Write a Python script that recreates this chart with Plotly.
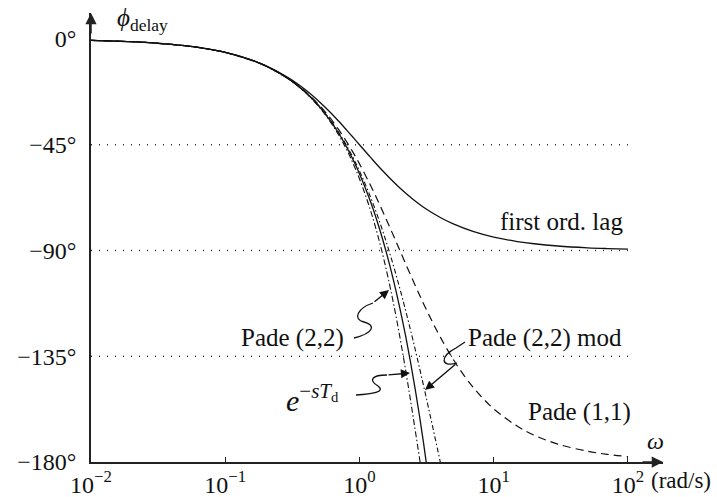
import plotly.graph_objects as go

# ---------------- data ----------------
w_exact = [0.01, 0.02, 0.03, 0.05, 0.07, 0.1, 0.15, 0.2, 0.3, 0.4, 0.5, 0.6, 0.7, 0.8, 0.9,
           1.0, 1.2, 1.4, 1.6, 1.8, 2.0, 2.2, 2.4, 2.6, 2.8, 3.0, 3.2]
phi_exact = [-0.57, -1.15, -1.72, -2.86, -4.01, -5.73, -8.59, -11.46, -17.19, -22.92, -28.65,
             -34.38, -40.11, -45.84, -51.57, -57.30, -68.75, -80.21, -91.67, -103.13, -114.59,
             -126.05, -137.51, -148.97, -160.43, -171.89, -183.35]

w_lag = [0.01, 0.02, 0.03, 0.05, 0.07, 0.1, 0.15, 0.2, 0.3, 0.4, 0.5, 0.6, 0.7, 0.8, 0.9, 1.0,
         1.2, 1.5, 2, 2.5, 3, 4, 5, 7, 10, 15, 20, 30, 50, 70, 100]
phi_lag = [-0.57, -1.15, -1.72, -2.86, -4.00, -5.71, -8.53, -11.31, -16.70, -21.80, -26.57,
           -30.96, -34.99, -38.66, -41.99, -45.00, -50.19, -56.31, -63.43, -68.20, -71.57,
           -75.96, -78.69, -81.87, -84.29, -86.19, -87.14, -88.09, -88.85, -89.18, -89.43]

w_pade11 = [0.01, 0.02, 0.03, 0.05, 0.07, 0.1, 0.2, 0.3, 0.4, 0.5, 0.6, 0.7, 0.8, 0.9, 1.0,
            1.2, 1.4, 1.6, 1.8, 2.0, 2.5, 3, 3.5, 4, 5, 6, 7, 8, 10, 15, 20, 30, 50, 70, 100]
phi_pade11 = [-0.57, -1.15, -1.72, -2.86, -4.01, -5.72, -11.42, -17.06, -22.62, -28.07, -33.40,
              -38.58, -43.60, -48.46, -53.13, -61.93, -69.98, -77.32, -83.97, -90.00, -102.68,
              -112.62, -120.51, -126.87, -136.40, -143.13, -148.11, -151.93, -157.38, -164.81,
              -168.58, -172.37, -175.42, -176.73, -177.71]

w_pade22 = [0.01, 0.02, 0.03, 0.05, 0.07, 0.1, 0.15, 0.2, 0.3, 0.4, 0.5, 0.6, 0.7, 0.8, 0.9,
            1.0, 1.2, 1.4, 1.6, 1.8, 2.0, 2.2, 2.4, 2.6, 2.8, 2.9, 3.0]
phi_pade22 = [-0.57, -1.15, -1.72, -2.87, -4.01, -5.73, -8.60, -11.48, -17.25, -23.07, -28.94,
              -34.88, -40.89, -47.00, -53.19, -59.49, -72.38, -85.66, -99.27, -113.06, -126.87,
              -140.49, -153.73, -166.40, -178.36, -184.05, -189.53]

w_mod = [0.01, 0.02, 0.03, 0.05, 0.07, 0.1, 0.15, 0.2, 0.3, 0.4, 0.5, 0.6, 0.7, 0.8, 0.9,
         1.0, 1.2, 1.4, 1.6, 1.8, 2.0, 2.2, 2.4, 2.6, 2.8, 3.0, 3.2, 3.4, 3.6, 3.8, 4.0, 4.2]
phi_mod = [-0.57, -1.15, -1.72, -2.87, -4.01, -5.73, -8.59, -11.45, -17.16, -22.84, -28.50,
           -34.12, -39.70, -45.24, -50.72, -56.14, -66.80, -77.16, -87.21, -96.90, -106.26,
           -115.25, -123.86, -132.10, -139.98, -147.48, -154.64, -161.46, -167.95, -174.12,
           -180.00, -185.59]

grid_levels = [-45, -90, -135]
grid_w = [0.01, 100]

y_tickvals = [0, -45, -90, -135, -180]
y_ticktext = ["0°", "−45°", "−90°", "−135°", "−180°"]
x_tickvals = [0.01, 0.1, 1, 10, 100]
x_ticktext = ["10<sup>−2</sup>", "10<sup>−1</sup>", "10<sup>0</sup>", "10<sup>1</sup>", "10<sup>2</sup>"]

# ---------------- layout geometry ----------------
W, H = 717, 497
L, R, T, B = 91, 54, 13, 35
X_MAX_LOG = 2.261
Y_TOP = 11.06
FONT = "Liberation Serif"
INK = "#111111"


def px(x, y):
    """pixel -> paper coordinates"""
    return (x - L) / (W - L - R), (H - B - y) / (H - T - B)


def path(cmds):
    out = []
    for c in cmds:
        if isinstance(c, str):
            out.append(c)
        else:
            a, b = px(*c)
            out.append(f"{a:.5f},{b:.5f}")
    return " ".join(out)


fig = go.Figure()

for lv in grid_levels:
    fig.add_trace(go.Scatter(x=grid_w, y=[lv, lv], mode="lines",
                             line=dict(color="#333333", width=1.4, dash="1px,7px"),
                             hoverinfo="skip", showlegend=False))

fig.add_trace(go.Scatter(x=w_lag, y=phi_lag, mode="lines", line_shape="spline",
                         line=dict(color=INK, width=1.3), showlegend=False))
fig.add_trace(go.Scatter(x=w_pade11, y=phi_pade11, mode="lines", line_shape="spline",
                         line=dict(color=INK, width=1.2, dash="8px,5px"), showlegend=False))
fig.add_trace(go.Scatter(x=w_pade22, y=phi_pade22, mode="lines", line_shape="spline",
                         line=dict(color=INK, width=1.1, dash="6px,2.5px,1.5px,2.5px"), showlegend=False))
fig.add_trace(go.Scatter(x=w_mod, y=phi_mod, mode="lines", line_shape="spline",
                         line=dict(color=INK, width=1.1, dash="5px,2.5px,1.5px,2.5px"), showlegend=False))
fig.add_trace(go.Scatter(x=w_exact, y=phi_exact, mode="lines", line_shape="spline",
                         line=dict(color=INK, width=1.3), showlegend=False))

annotations = []


def text(s, x, y, size=25, xanchor="center"):
    a, b = px(x, y)
    annotations.append(dict(text=s, x=a, y=b, xref="paper", yref="paper", showarrow=False,
                            xanchor=xanchor, yanchor="middle",
                            font=dict(family=FONT, size=size, color=INK)))


text("<i>ϕ</i><sub>delay</sub>", 142, 20, size=25)
text("first ord. lag", 561, 222)
text("Pade (2,2)", 292, 338)
text("Pade (2,2) mod", 545, 338)
text("Pade (1,1)", 579, 412)
text("<i>e</i><sup>−<i>sT</i><sub>d</sub></sup>", 312, 398, size=30)
text("<i>ω</i>", 655, 441, size=24)
text("(rad/s)", 681, 481, size=23)


def arrow(tip, tail):
    a, b = px(*tip)
    annotations.append(dict(text="", x=a, y=b, xref="paper", yref="paper", showarrow=True,
                            ax=tail[0] - tip[0], ay=tail[1] - tip[1], axref="pixel", ayref="pixel",
                            arrowhead=2, arrowsize=1.3, arrowwidth=1.4, arrowcolor=INK, standoff=0))


arrow((389, 290), (373, 303))
arrow((410, 373), (387, 375))
arrow((425, 390), (457, 363))

# axis arrows
annotations.append(dict(text="", x=X_MAX_LOG, y=-180, xref="x", yref="y", showarrow=True,
                        ax=-22, ay=0, arrowhead=2, arrowsize=1.5, arrowwidth=1.5,
                        arrowcolor="#222222", standoff=0))
annotations.append(dict(text="", x=-2, y=Y_TOP, xref="x", yref="y", showarrow=True,
                        ax=0, ay=22, arrowhead=2, arrowsize=1.5, arrowwidth=1.5,
                        arrowcolor="#222222", standoff=0))

shapes = [
    dict(type="path", xref="paper", yref="paper", line=dict(color=INK, width=1.3),
         path=path(["M", (354, 338), "C", (374, 333), (376, 325), (364, 322),
                    "C", (352, 319), (358, 308), (373, 303)])),
    dict(type="path", xref="paper", yref="paper", line=dict(color=INK, width=1.3),
         path=path(["M", (356, 395), "C", (372, 394), (386, 392), (378, 386),
                    "C", (368, 380), (372, 375), (387, 375)])),
    dict(type="path", xref="paper", yref="paper", line=dict(color=INK, width=1.3),
         path=path(["M", (465, 342), "L", (456, 348),
                    "C", (440, 356), (440, 368), (457, 363)])),
]

fig.update_layout(
    width=W, height=H, autosize=False,
    margin=dict(l=L, r=R, t=T, b=B, autoexpand=False),
    paper_bgcolor="white", plot_bgcolor="white",
    showlegend=False,
    annotations=annotations, shapes=shapes,
    font=dict(family=FONT, size=24, color=INK),
    xaxis=dict(type="log", range=[-2, X_MAX_LOG], showgrid=False, zeroline=False,
               automargin=False,
               showline=True, linecolor="#222222", linewidth=1.5,
               tickmode="array", tickvals=x_tickvals, ticktext=x_ticktext,
               ticks="inside", ticklen=5, tickwidth=1.2, tickcolor="#222222",
               tickfont=dict(family=FONT, size=24, color=INK)),
    yaxis=dict(range=[-180, Y_TOP], showgrid=False, zeroline=False,
               automargin=False,
               showline=True, linecolor="#222222", linewidth=1.5,
               tickmode="array", tickvals=y_tickvals, ticktext=y_ticktext,
               ticks="", ticklabelstandoff=8,
               tickfont=dict(family=FONT, size=24, color=INK)),
)

fig.write_html("out.html", config={"displayModeBar": False},
               post_script="document.body.style.margin='0';document.body.style.padding='0';")
